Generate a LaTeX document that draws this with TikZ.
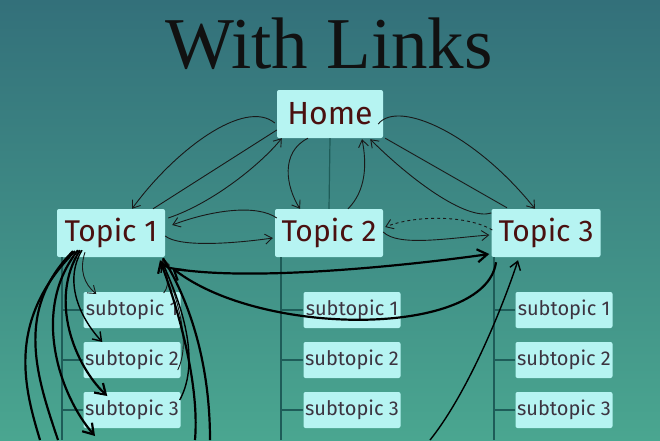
\documentclass[tikz,border=0pt]{standalone}
\usepackage{fontspec}
\newfontfamily\boxfont{Fira Sans}
\newfontfamily\titlefont{Liberation Serif}
\usetikzlibrary{arrows.meta}
\definecolor{bgtop}{HTML}{33707A}
\definecolor{bgbot}{HTML}{4AA690}
\definecolor{boxfill}{HTML}{B6F4F2}
\definecolor{maroontxt}{HTML}{4A1010}
\definecolor{subtxt}{HTML}{3C3440}
\definecolor{treeline}{HTML}{1E5C58}
\definecolor{titlecol}{HTML}{111111}
\tikzset{
  bigbox/.style={fill=boxfill, rounded corners=2pt, minimum width=108pt, minimum height=48pt, inner sep=0pt, font=\boxfont\fontsize{30}{31}\selectfont, text=maroontxt},
  subbox/.style={fill=boxfill, rounded corners=2pt, minimum width=97pt, minimum height=36pt, inner sep=0pt, font=\boxfont\fontsize{20}{22}\selectfont, text=subtxt},
  tree/.style={draw=treeline, line width=1.2pt},
  plain/.style={draw=black!90, line width=0.9pt},
  link/.style={draw=black!90, line width=0.9pt, -{Straight Barb[length=7pt,width=10pt]}},
  midlink/.style={draw=black, line width=1.4pt, -{Straight Barb[length=8pt,width=11pt]}},
  thicklink/.style={draw=black, line width=2.2pt, -{Straight Barb[length=10pt,width=13pt]}},
  thickplain/.style={draw=black, line width=2.2pt},
}
\begin{document}
\begin{tikzpicture}[x=1pt,y=-1pt]
\useasboundingbox (0,0) rectangle (660,440);
\shade[top color=bgtop, bottom color=bgbot] (0,0) rectangle (660,440);

\node[font=\titlefont\fontsize{73}{75}\selectfont, text=titlecol] (title) at (329,44) {With Links};

\node[bigbox, minimum width=106pt, font=\boxfont\fontsize{32}{33}\selectfont] (H) at (330,114) {Home};
\node[bigbox] (T1) at (111,233) {Topic 1};
\node[bigbox] (T2) at (329,233) {Topic 2};
\node[bigbox, minimum width=109pt] (T3) at (546,233) {Topic 3};

\foreach \c/\x in {1/132,2/352,3/564}{
  \node[subbox] (s\c1) at (\x,310) {subtopic 1};
  \node[subbox] (s\c2) at (\x,360) {subtopic 2};
  \node[subbox] (s\c3) at (\x,410) {subtopic 3};
}

% tree
\coordinate (c1b) at (62,440);
\coordinate (c2b) at (281,440);
\coordinate (c3b) at (494,440);
\draw[tree] (H.south) -- (T2.north);
\draw[tree] (T1.south -| c1b) -- (c1b);
\draw[tree] (T2.south -| c2b) -- (c2b);
\draw[tree] (T3.south -| c3b) -- (c3b);
\foreach \c in {1,2,3}{
  \foreach \r in {1,2,3}{
    \draw[tree] (s\c\r.west -| c\c b) -- (s\c\r.west);
  }
}

% Home <-> Topic 1
\draw[link] ([shift={(-2,9)}]H.west) .. controls +(-30,-25) and +(43,-59) .. ([shift={(21,0)}]T1.north);
\draw[plain] ([shift={(42,0)}]T1.north) -- ([shift={(0,16)}]H.west);
\draw[link] ([shift={(3,-15)}]T1.east) .. controls +(45,-15) and +(-20,25) .. ([shift={(5,0)}]H.south west);

% Home <-> Topic 2
\draw[link] ([shift={(-22,0)}]H.south) .. controls +(-28,14) and +(-14,-22) .. ([shift={(-29,0)}]T2.north);
\draw[link] ([shift={(19,0)}]T2.north) .. controls +(18,-18) and +(5,25) .. ([shift={(32,1)}]H.south);

% Home <-> Topic 3
\draw[link] ([shift={(-5,10)}]H.east) .. controls +(20,-25) and +(-60,-75) .. ([shift={(-11,0)}]T3.north);
\draw[plain] ([shift={(2,0)}]H.south east) -- ([shift={(-39,-1)}]T3.north);
\draw[link] ([shift={(0,-20)}]T3.west) .. controls +(-25,8) and +(40,40) .. ([shift={(-13,1)}]H.south east);

% Topic 1 <-> Topic 2
\draw[link] ([shift={(0,3)}]T1.east) .. controls +(15,12) and +(-35,5) .. ([shift={(-2,5)}]T2.west);
\draw[link] ([shift={(2,-15)}]T2.west) .. controls +(-20,-14) and +(40,-15) .. ([shift={(7,-8)}]T1.east);

% Topic 2 <-> Topic 3
\draw[link, dashed] ([shift={(1,-3)}]T3.west) .. controls +(-25,-15) and +(30,-12) .. ([shift={(2,-6)}]T2.east);
\draw[link] ([shift={(0,-1)}]T2.east) .. controls +(15,15) and +(-40,3) .. ([shift={(-2,2)}]T3.west);

% Topic 1 <-> Topic 3 (thick)
\draw[thicklink] ([shift={(5,35)}]T1.east) .. controls +(80,15) and +(-70,10) .. ([shift={(-2,21)}]T3.west);
\draw[thicklink] ([shift={(-50,5)}]T3.south) .. controls +(-10,75) and +(90,70) .. ([shift={(7,35)}]T1.east);
\coordinate (g0) at (430,440);
\draw[midlink] (g0) .. controls +(40,-50) and +(-13,40) .. ([shift={(-28,3)}]T3.south);

% Topic 1 -> its subtopics (left side)
\coordinate (b1) at (95,436);
\coordinate (b2) at (40,440);
\coordinate (b3) at (58,440);
\draw[link] ([shift={(-26,-5)}]T1.south) .. controls +(-6,18) and +(-12,-10) .. ([shift={(13,-16)}]s11.west);
\draw[midlink] ([shift={(-29,-7)}]T1.south) .. controls +(-18,30) and +(-24,-26) .. ([shift={(19,-18)}]s12.west);
\draw[thicklink] ([shift={(-31,-7)}]T1.south) .. controls +(-32,50) and +(-32,-30) .. ([shift={(24,-14)}]s13.west);
\draw[thicklink] ([shift={(-33,-7)}]T1.south) .. controls +(-48,60) and +(-35,-40) .. (b1);
\draw[thickplain] ([shift={(-36,-6)}]T1.south) .. controls +(-70,70) and +(-15,-50) .. (b2);
\draw[thickplain] ([shift={(-38,-6)}]T1.south) .. controls +(-60,60) and +(-20,-60) .. (b3);

% subtopics -> Topic 1 (right side)
\coordinate (r1) at (195,440);
\coordinate (r2) at (210,440);
\draw[link] ([shift={(-17,-17)}]s11.east) .. controls +(8,-10) and +(2,12) .. ([shift={(52,1)}]T1.south);
\draw[link] ([shift={(-3,10)}]s12.east) .. controls +(15,-30) and +(12,30) .. ([shift={(51,3)}]T1.south);
\draw[midlink] ([shift={(-1,-10)}]s13.east) .. controls +(22,-40) and +(18,38) .. ([shift={(51,5)}]T1.south);
\draw[thicklink] (r1) .. controls +(5,-60) and +(15,40) .. ([shift={(49,3)}]T1.south);
\draw[thickplain] (r2) .. controls +(0,-80) and +(25,40) .. ([shift={(52,1)}]T1.south);
\end{tikzpicture}
\end{document}
